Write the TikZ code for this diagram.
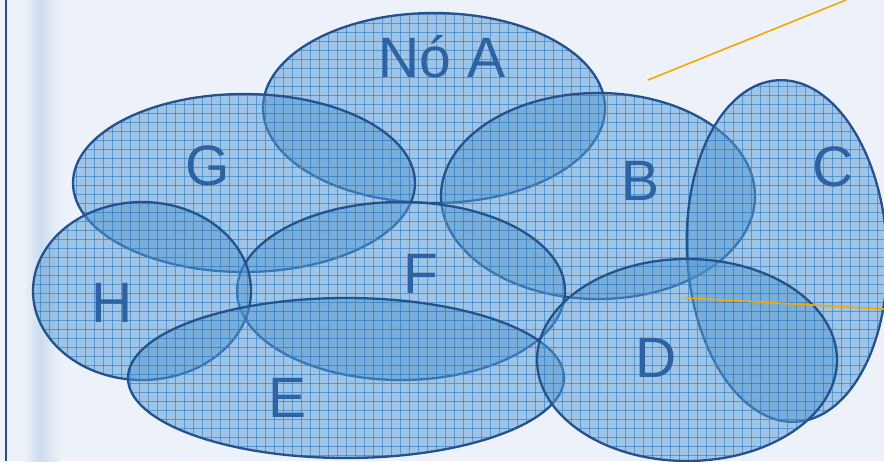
\documentclass[tikz,border=0pt]{standalone}
\usepackage{fontspec}
\setmainfont{Liberation Sans}
\definecolor{bgc}{HTML}{EDF1F9}
\definecolor{stripec}{HTML}{CCDDEF}
\definecolor{navyc}{HTML}{2E4A8A}
\definecolor{cellc}{HTML}{5499D3}
\definecolor{gridc}{HTML}{3A85C6}
\definecolor{edgec}{HTML}{23528F}
\definecolor{lblc}{HTML}{2D62A3}
\definecolor{orangec}{HTML}{F2A900}
\tikzset{
  cellfill/.style={fill=cellc, fill opacity=0.5},
  gridln/.style={draw=gridc, line width=0.8pt, opacity=0.7},
  cellline/.style={draw=edgec, line width=2.3pt},
  lbl/.style={text=lblc, font=\fontsize{57}{60}\selectfont, anchor=base, inner sep=0pt},
  orangeln/.style={draw=orangec, line width=1.6pt}
}
\begin{document}
\begin{tikzpicture}[x=1pt,y=-1pt]
\useasboundingbox (0,0) rectangle (884,461);
% background
\fill[bgc] (0,0) rectangle (884,461);
\shade[left color=bgc, right color=stripec] (24,0) rectangle (40,461);
\shade[left color=stripec, right color=bgc] (40,0) rectangle (60,461);
\draw[navyc, line width=2pt] (5.5,0) -- (5.5,461);
% ellipses
\foreach \cx/\cy/\rx/\ry/\rot in {434/108/171/95/0, 244/183/171/89/0, 598/196/157/103/0, 787/251/100/171/3, 401/291/164/89/0, 142/291/109/89/0, 346/378/218/80/0, 687/360/150/101/0}{
  \fill[cellfill, rotate around={\rot:(\cx,\cy)}] (\cx,\cy) ellipse [x radius=\rx pt, y radius=\ry pt];
  \begin{scope}
    \clip[rotate around={\rot:(\cx,\cy)}] (\cx,\cy) ellipse [x radius=\rx pt, y radius=\ry pt];
    \foreach \g in {0,...,99} {
      \draw[gridln] (\g*9+4,0) -- (\g*9+4,461);
    }
    \foreach \g in {0,...,52} {
      \draw[gridln] (0,\g*9+5.5) -- (884,\g*9+5.5);
    }
  \end{scope}
  \draw[cellline, rotate around={\rot:(\cx,\cy)}] (\cx,\cy) ellipse [x radius=\rx pt, y radius=\ry pt];
}
% labels
\node[lbl] (nA) at (442,77) {Nó A};
\node[lbl] (nG) at (208,185) {G};
\node[lbl] (nB) at (641,200) {B};
\node[lbl] (nC) at (833,186) {C};
\node[lbl] (nH) at (112,322) {H};
\node[lbl] (nF) at (421,293) {F};
\node[lbl] (nD) at (656,377) {D};
\node[lbl] (nE) at (288,417) {E};
% orange lines
\coordinate (o1a) at (648,80);
\coordinate (o1b) at (846,0);
\coordinate (o2a) at (686,298);
\coordinate (o2b) at (884,309);
\draw[orangeln] (o1a) -- (o1b);
\draw[orangeln] (o2a) -- (o2b);
\end{tikzpicture}
\end{document}
